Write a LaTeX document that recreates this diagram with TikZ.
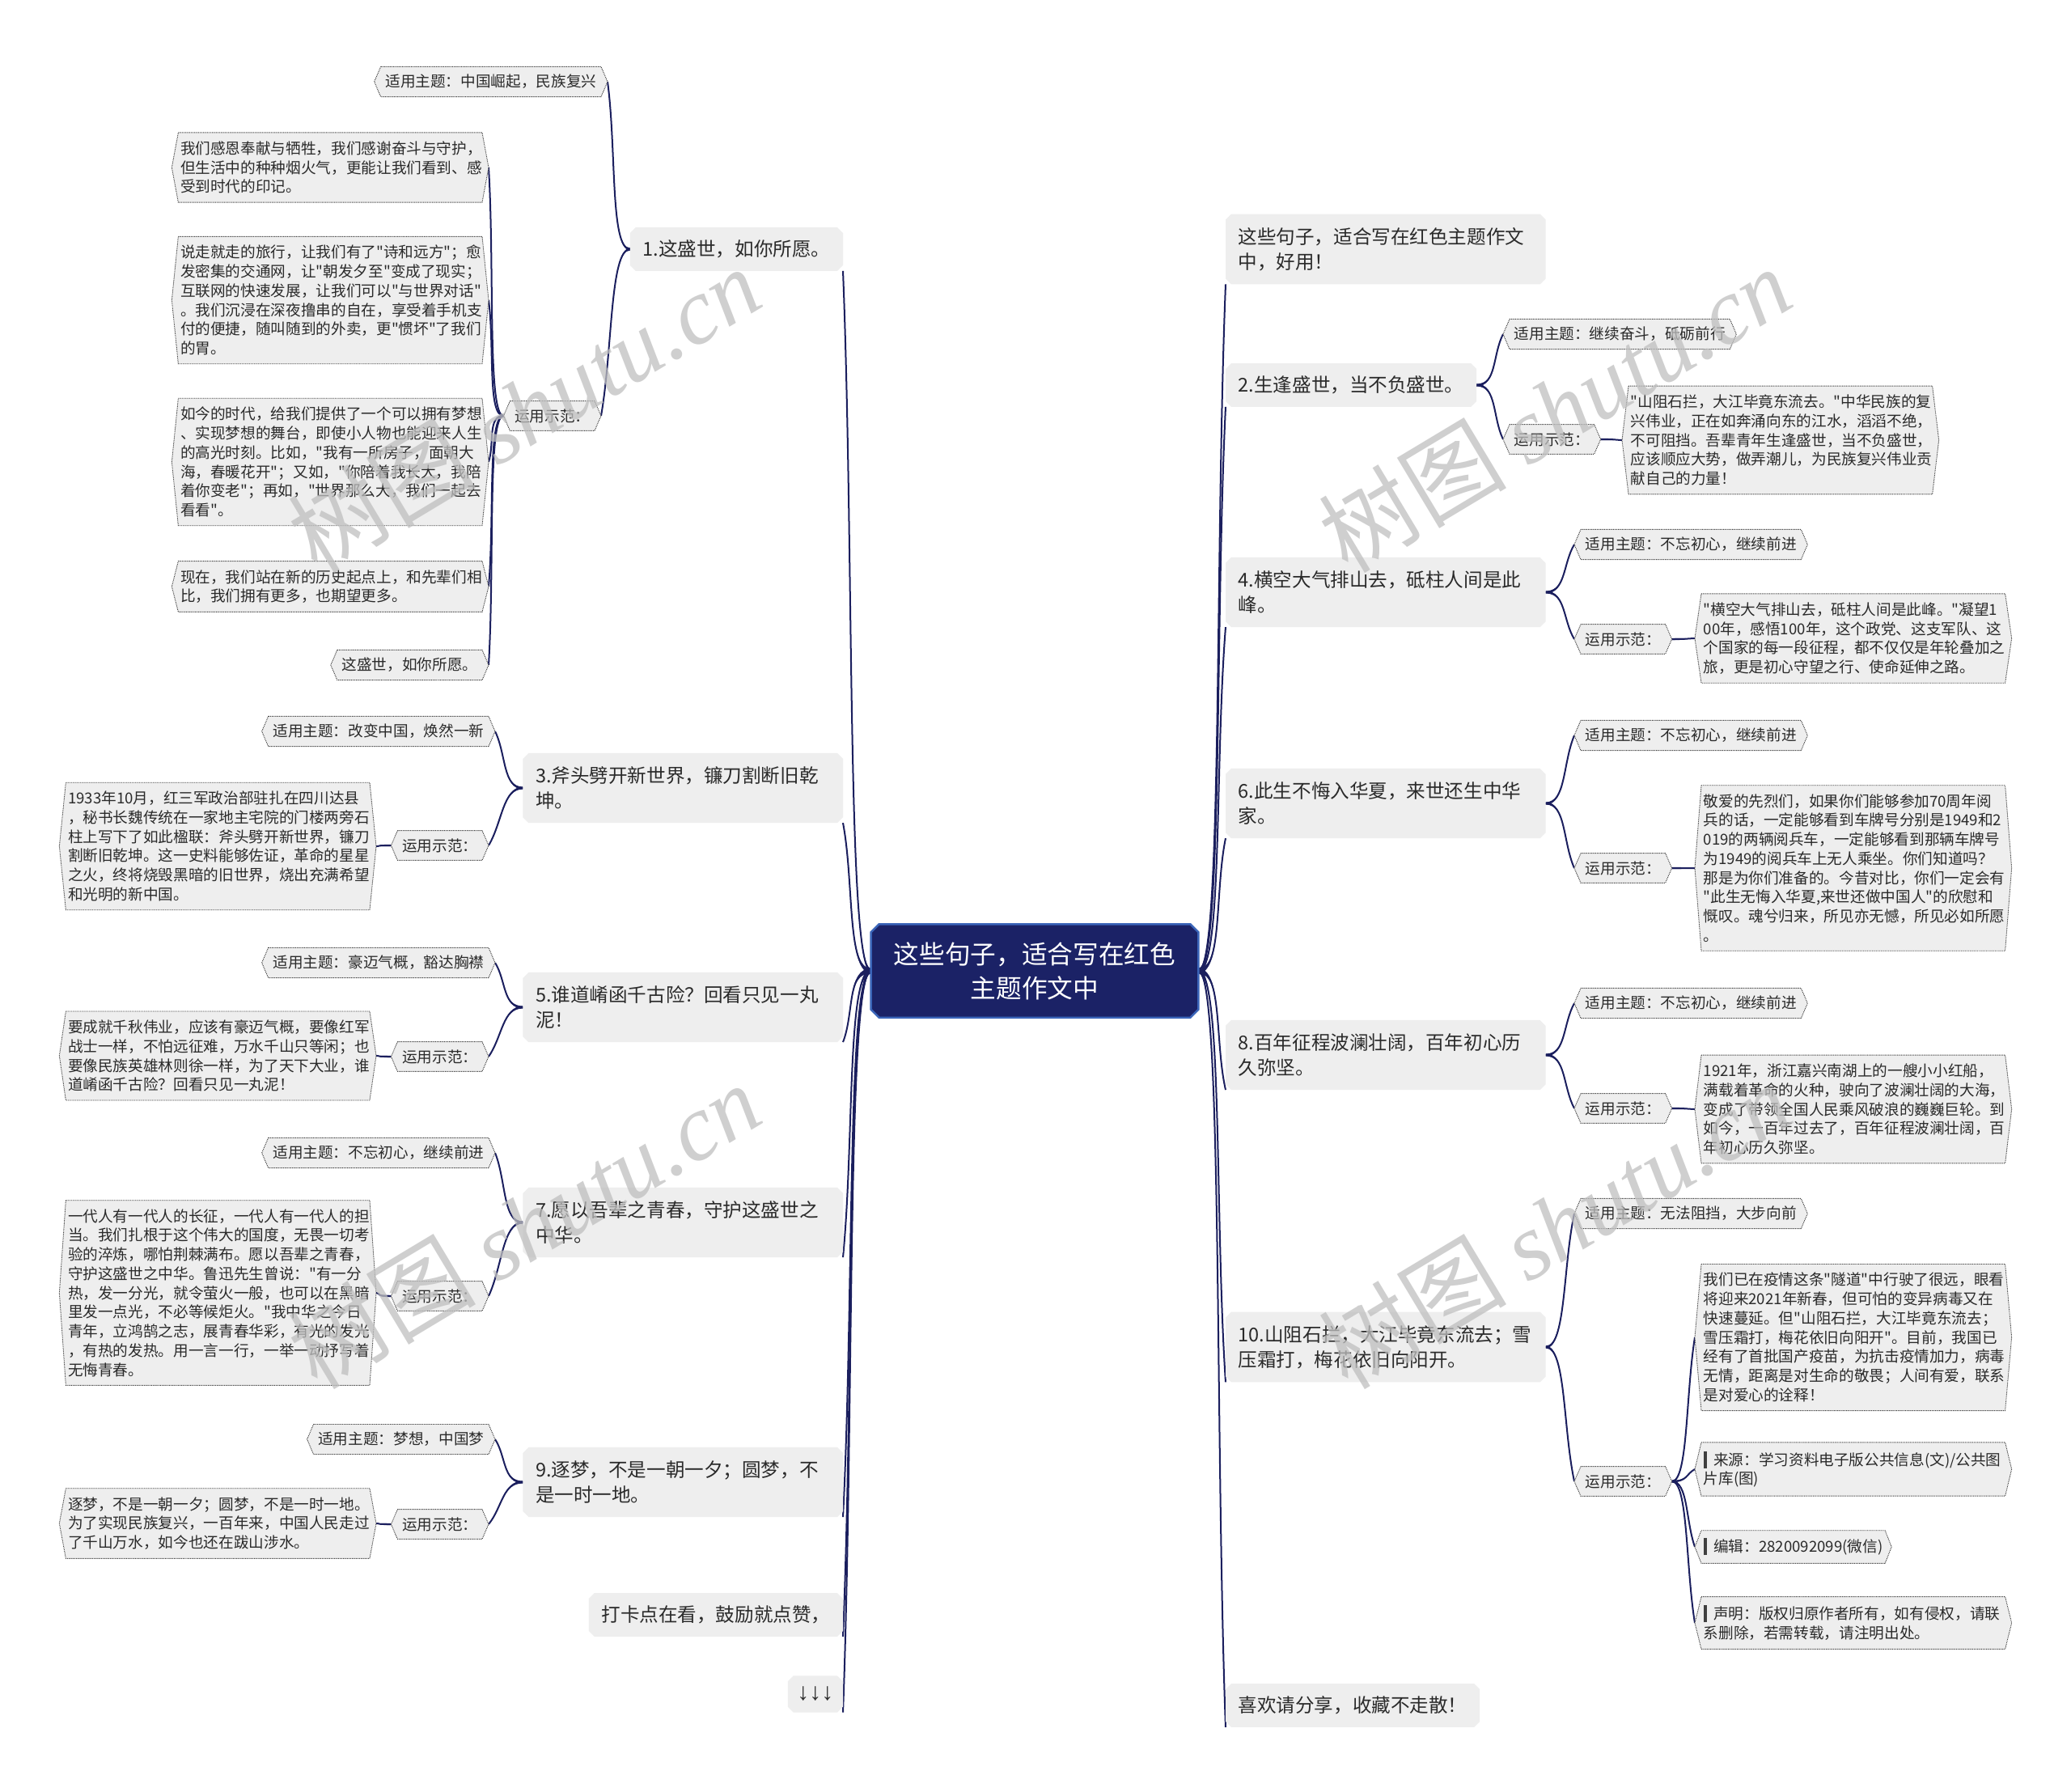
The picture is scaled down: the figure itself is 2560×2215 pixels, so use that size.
\documentclass[tikz,border=0pt]{standalone}
\usepackage{fontspec}
\newfontfamily\cjk{Noto Sans CJK SC}
\newfontfamily\wmserif{Liberation Serif}
\newfontfamily\arrf{Liberation Sans}
\usetikzlibrary{calc}
\definecolor{lc}{HTML}{1B1F5E}
\definecolor{boxg}{HTML}{EEEEEE}
\definecolor{ctrc}{HTML}{1B2266}
\definecolor{ctrb}{HTML}{3A64B8}
\definecolor{txt}{HTML}{2A2A2A}
\pgfdeclarelayer{lines}
\pgfdeclarelayer{bg}
\pgfsetlayers{lines,bg,main}
\newcommand\hexb[1]{%
 \filldraw[hexs] (#1.north west) -- (#1.north east) -- ([xshift=0.8mm]#1.east) -- (#1.south east) -- (#1.south west) -- ([xshift=-0.8mm]#1.west) -- cycle;
 \coordinate (#1-l) at ([xshift=-0.8mm]#1.west);
 \coordinate (#1-r) at ([xshift=0.8mm]#1.east);}
\newcommand\chf[3]{%
 \filldraw[#2] ([xshift=#3]#1.north west) -- ([xshift=-#3]#1.north east) -- ([yshift=-#3]#1.north east) -- ([yshift=#3]#1.south east) -- ([xshift=-#3]#1.south east) -- ([xshift=#3]#1.south west) -- ([yshift=#3]#1.south west) -- ([yshift=-#3]#1.north west) -- cycle;}
\newcommand\tp[4]{%
 \fill[lc] ([yshift=#4]#1) .. controls ([xshift=#3,yshift=#4]#1) and ($(#2)!0.4!(#1)$) .. (#2) .. controls ($(#2)!0.4!(#1)$) and ([xshift=#3,yshift=-#4]#1) .. ([yshift=-#4]#1) -- cycle;
 \draw[lc,line width=0.2mm] (#1) .. controls ([xshift=#3]#1) and ($(#2)!0.4!(#1)$) .. (#2);}
\newcommand\mybar{{\color{black!75}\rule[-0.35mm]{0.45mm}{2.1mm}}\hspace{0.8mm}}
\tikzset{
 lone/.style={inner xsep=1.5mm, inner ysep=1.5mm, font=\cjk\fontsize{6.7pt}{8.8pt}\selectfont, text=txt, align=left},
 ltwo/.style={lone, text width=36.4mm, inner ysep=1.6mm},
 ctr/.style={inner sep=0pt, minimum width=40.3mm, minimum height=11.4mm, font=\cjk\fontsize{9pt}{12pt}\selectfont, text=white, align=center},
 sub/.style={inner xsep=0.5mm, inner ysep=0.9mm, font=\cjk\fontsize{5.3pt}{6.75pt}\selectfont, text=txt, align=left},
 leaf/.style={sub, text width=37mm, inner xsep=0.2mm, inner ysep=1mm},
 hexs/.style={fill=boxg, draw=black!75, line width=0.09mm, dash pattern=on 0.12mm off 0.1mm},
 l1bg/.style={fill=boxg, draw=none},
 ctrbg/.style={fill=ctrc, draw=ctrb, line width=0.25mm},
 wm/.style={text=black!25, font=\cjk\fontsize{33pt}{33pt}\selectfont, opacity=0.75},
}
\begin{document}
\begin{tikzpicture}[x=0.01cm,y=-0.01cm]
\begin{pgfonlayer}{lines}
\fill[white] (0,0) rectangle (2560,2215);
\end{pgfonlayer}
\path[use as bounding box] (0,0) rectangle (2560,2215);
% center
\node[ctr] (c) at (1279,1200) {这些句子，适合写在红色\\主题作文中};
% ---------- left level 1
\node[lone,anchor=east] (n1) at (1042,308) {1.这盛世，如你所愿。};
\node[ltwo,anchor=east] (n3) at (1042,974) {3.斧头劈开新世界，镰刀割断旧乾\\坤。};
\node[ltwo,anchor=east] (n5) at (1042,1245) {5.谁道崤函千古险？回看只见一丸\\泥！};
\node[ltwo,anchor=east] (n7) at (1042,1511) {7.愿以吾辈之青春，守护这盛世之\\中华。};
\node[ltwo,anchor=east] (n9) at (1042,1832) {9.逐梦，不是一朝一夕；圆梦，不\\是一时一地。};
\node[lone,anchor=east] (n11) at (1042,1996) {打卡点在看，鼓励就点赞，};
\node[lone,anchor=east,inner xsep=1.1mm,inner ysep=1.3mm] (n13) at (1042,2094) {{\arrf\fontsize{8.5pt}{9pt}\selectfont ↓↓↓}};
% ---------- right level 1
\node[ltwo,anchor=west] (r0) at (1515,308) {这些句子，适合写在红色主题作文\\中，好用！};
\node[lone,anchor=west] (r2) at (1515,476) {2.生逢盛世，当不负盛世。};
\node[ltwo,anchor=west] (r4) at (1515,732) {4.横空大气排山去，砥柱人间是此\\峰。};
\node[ltwo,anchor=west] (r6) at (1515,993) {6.此生不悔入华夏，来世还生中华\\家。};
\node[ltwo,anchor=west] (r8) at (1515,1304) {8.百年征程波澜壮阔，百年初心历\\久弥坚。};
\node[ltwo,anchor=west] (r10) at (1515,1665) {10.山阻石拦，大江毕竟东流去；雪\\压霜打，梅花依旧向阳开。};
\node[lone,anchor=west] (r12) at (1515,2108) {喜欢请分享，收藏不走散！};
% ---------- left branch 1
\node[sub,anchor=east] (n1a) at (743,101) {适用主题：中国崛起，民族复兴};
\node[sub,anchor=east] (n1b) at (735,514) {运用示范：};
\node[leaf,anchor=east] (n1c1) at (596,207) {我们感恩奉献与牺牲，我们感谢奋斗与守护，\\但生活中的种种烟火气，更能让我们看到、感\\受到时代的印记。};
\node[leaf,anchor=east] (n1c2) at (596,371) {说走就走的旅行，让我们有了"诗和远方"；愈\\发密集的交通网，让"朝发夕至"变成了现实；\\互联网的快速发展，让我们可以"与世界对话"\\。我们沉浸在深夜撸串的自在，享受着手机支\\付的便捷，随叫随到的外卖，更"惯坏"了我们\\的胃。};
\node[leaf,anchor=east] (n1c3) at (596,571) {如今的时代，给我们提供了一个可以拥有梦想\\、实现梦想的舞台，即使小人物也能迎来人生\\的高光时刻。比如，"我有一所房子，面朝大\\海，春暖花开"；又如，"你陪着我长大，我陪\\着你变老"；再如，"世界那么大，我们一起去\\看看"。};
\node[leaf,anchor=east] (n1c4) at (596,725) {现在，我们站在新的历史起点上，和先辈们相\\比，我们拥有更多，也期望更多。};
\node[sub,anchor=east] (n1c5) at (596,822) {这盛世，如你所愿。};
% ---------- left branch 3
\node[sub,anchor=east] (n3a) at (604,904) {适用主题：改变中国，焕然一新};
\node[sub,anchor=east] (n3b) at (596,1045) {运用示范：};
\node[leaf,anchor=east] (n3c) at (457,1046) {1933年10月，红三军政治部驻扎在四川达县\\，秘书长魏传统在一家地主宅院的门楼两旁石\\柱上写下了如此楹联：斧头劈开新世界，镰刀\\割断旧乾坤。这一史料能够佐证，革命的星星\\之火，终将烧毁黑暗的旧世界，烧出充满希望\\和光明的新中国。};
% ---------- left branch 5
\node[sub,anchor=east] (n5a) at (604,1190) {适用主题：豪迈气概，豁达胸襟};
\node[sub,anchor=east] (n5b) at (596,1306) {运用示范：};
\node[leaf,anchor=east] (n5c) at (457,1305) {要成就千秋伟业，应该有豪迈气概，要像红军\\战士一样，不怕远征难，万水千山只等闲；也\\要像民族英雄林则徐一样，为了天下大业，谁\\道崤函千古险？回看只见一丸泥！};
% ---------- left branch 7
\node[sub,anchor=east] (n7a) at (604,1425) {适用主题：不忘初心，继续前进};
\node[sub,anchor=east] (n7b) at (596,1602) {运用示范：};
\node[leaf,anchor=east] (n7c) at (457,1598) {一代人有一代人的长征，一代人有一代人的担\\当。我们扎根于这个伟大的国度，无畏一切考\\验的淬炼，哪怕荆棘满布。愿以吾辈之青春，\\守护这盛世之中华。鲁迅先生曾说："有一分\\热，发一分光，就令萤火一般，也可以在黑暗\\里发一点光，不必等候炬火。"我中华之今日\\青年，立鸿鹄之志，展青春华彩，有光的发光\\，有热的发热。用一言一行，一举一动抒写着\\无悔青春。};
% ---------- left branch 9
\node[sub,anchor=east] (n9a) at (604,1779) {适用主题：梦想，中国梦};
\node[sub,anchor=east] (n9b) at (596,1884) {运用示范：};
\node[leaf,anchor=east] (n9c) at (457,1883) {逐梦，不是一朝一夕；圆梦，不是一时一地。\\为了实现民族复兴，一百年来，中国人民走过\\了千山万水，如今也还在跋山涉水。};
% ---------- right branch 2
\node[sub,anchor=west] (r2a) at (1866,413) {适用主题：继续奋斗，砥砺前行};
\node[sub,anchor=west] (r2b) at (1866,543) {运用示范：};
\node[leaf,anchor=west] (r2c) at (2013,544) {"山阻石拦，大江毕竟东流去。"中华民族的复\\兴伟业，正在如奔涌向东的江水，滔滔不绝，\\不可阻挡。吾辈青年生逢盛世，当不负盛世，\\应该顺应大势，做弄潮儿，为民族复兴伟业贡\\献自己的力量！};
% ---------- right branch 4
\node[sub,anchor=west] (r4a) at (1954,673) {适用主题：不忘初心，继续前进};
\node[sub,anchor=west] (r4b) at (1954,790) {运用示范：};
\node[leaf,anchor=west] (r4c) at (2103,789) {"横空大气排山去，砥柱人间是此峰。"凝望1\\00年，感悟100年，这个政党、这支军队、这\\个国家的每一段征程，都不仅仅是年轮叠加之\\旅，更是初心守望之行、使命延伸之路。};
% ---------- right branch 6
\node[sub,anchor=west] (r6a) at (1954,909) {适用主题：不忘初心，继续前进};
\node[sub,anchor=west] (r6b) at (1954,1073) {运用示范：};
\node[leaf,anchor=west] (r6c) at (2103,1073) {敬爱的先烈们，如果你们能够参加70周年阅\\兵的话，一定能够看到车牌号分别是1949和2\\019的两辆阅兵车，一定能够看到那辆车牌号\\为1949的阅兵车上无人乘坐。你们知道吗？\\那是为你们准备的。今昔对比，你们一定会有\\"此生无悔入华夏,来世还做中国人"的欣慰和\\慨叹。魂兮归来，所见亦无憾，所见必如所愿\\。};
% ---------- right branch 8
\node[sub,anchor=west] (r8a) at (1954,1240) {适用主题：不忘初心，继续前进};
\node[sub,anchor=west] (r8b) at (1954,1370) {运用示范：};
\node[leaf,anchor=west] (r8c) at (2103,1371) {1921年，浙江嘉兴南湖上的一艘小小红船，\\满载着革命的火种，驶向了波澜壮阔的大海，\\变成了带领全国人民乘风破浪的巍巍巨轮。到\\如今，一百年过去了，百年征程波澜壮阔，百\\年初心历久弥坚。};
% ---------- right branch 10
\node[sub,anchor=west] (r10a) at (1954,1500) {适用主题：无法阻挡，大步向前};
\node[sub,anchor=west] (r10b) at (1954,1831) {运用示范：};
\node[leaf,anchor=west] (r10c1) at (2103,1653) {我们已在疫情这条"隧道"中行驶了很远，眼看\\将迎来2021年新春，但可怕的变异病毒又在\\快速蔓延。但"山阻石拦，大江毕竟东流去；\\雪压霜打，梅花依旧向阳开"。目前，我国已\\经有了首批国产疫苗，为抗击疫情加力，病毒\\无情，距离是对生命的敬畏；人间有爱，联系\\是对爱心的诠释！};
\node[leaf,anchor=west] (r10c2) at (2103,1816) {\mybar 来源：学习资料电子版公共信息(文)/公共图\\片库(图)};
\node[sub,anchor=west,inner xsep=0.2mm] (r10c3) at (2103,1912) {\mybar 编辑：2820092099(微信)};
\node[leaf,anchor=west] (r10c4) at (2103,2006) {\mybar 声明：版权归原作者所有，如有侵权，请联\\系删除，若需转载，请注明出处。};
% ---------- backgrounds
\begin{pgfonlayer}{bg}
\chf{c}{ctrbg}{1mm}
\foreach \n in {n1,n3,n5,n7,n9,n11,n13,r0,r2,r4,r6,r8,r10,r12} {\chf{\n}{l1bg}{0.7mm}}
\foreach \n in {n1a,n1b,n1c1,n1c2,n1c3,n1c4,n1c5,n3a,n3b,n3c,n5a,n5b,n5c,n7a,n7b,n7c,n9a,n9b,n9c,r2a,r2b,r2c,r4a,r4b,r4c,r6a,r6b,r6c,r8a,r8b,r8c,r10a,r10b,r10c1,r10c2,r10c3,r10c4} {\hexb{\n}}
\end{pgfonlayer}
% ---------- connectors
\begin{pgfonlayer}{lines}
\foreach \n in {n1,n3,n5,n7,n9,n11,n13} {\tp{c.west}{\n.south east}{-3mm}{0.3mm}}
\foreach \n in {r0,r2,r4,r6,r8,r10,r12} {\tp{c.east}{\n.south west}{3mm}{0.3mm}}
\foreach \n in {n1,n3,n5,n7,n9} {\tp{\n.west}{\n a-r}{-2.5mm}{0.15mm}\tp{\n.west}{\n b-r}{-2.5mm}{0.15mm}}
\foreach \n in {r2,r4,r6,r8,r10} {\tp{\n.east}{\n a-l}{2.5mm}{0.15mm}\tp{\n.east}{\n b-l}{2.5mm}{0.15mm}}
\foreach \m in {n1c1,n1c2,n1c3,n1c4,n1c5} {\tp{n1b-l}{\m-r}{-2mm}{0.12mm}}
\tp{n3b-l}{n3c-r}{-2mm}{0.12mm}
\tp{n5b-l}{n5c-r}{-2mm}{0.12mm}
\tp{n7b-l}{n7c-r}{-2mm}{0.12mm}
\tp{n9b-l}{n9c-r}{-2mm}{0.12mm}
\tp{r2b-r}{r2c-l}{2mm}{0.12mm}
\tp{r4b-r}{r4c-l}{2mm}{0.12mm}
\tp{r6b-r}{r6c-l}{2mm}{0.12mm}
\tp{r8b-r}{r8c-l}{2mm}{0.12mm}
\foreach \m in {r10c1,r10c2,r10c3,r10c4} {\tp{r10b-r}{\m-l}{2mm}{0.12mm}}
\end{pgfonlayer}
% ---------- watermarks
\node[wm,rotate=31] (w1) at (648,506) {树图 {\wmserif\itshape shutu.cn}};
\node[wm,rotate=31] (w2) at (1922,506) {树图 {\wmserif\itshape shutu.cn}};
\node[wm,rotate=31] (w3) at (648,1515) {树图 {\wmserif\itshape shutu.cn}};
\node[wm,rotate=31] (w4) at (1922,1515) {树图 {\wmserif\itshape shutu.cn}};
\end{tikzpicture}
\end{document}
